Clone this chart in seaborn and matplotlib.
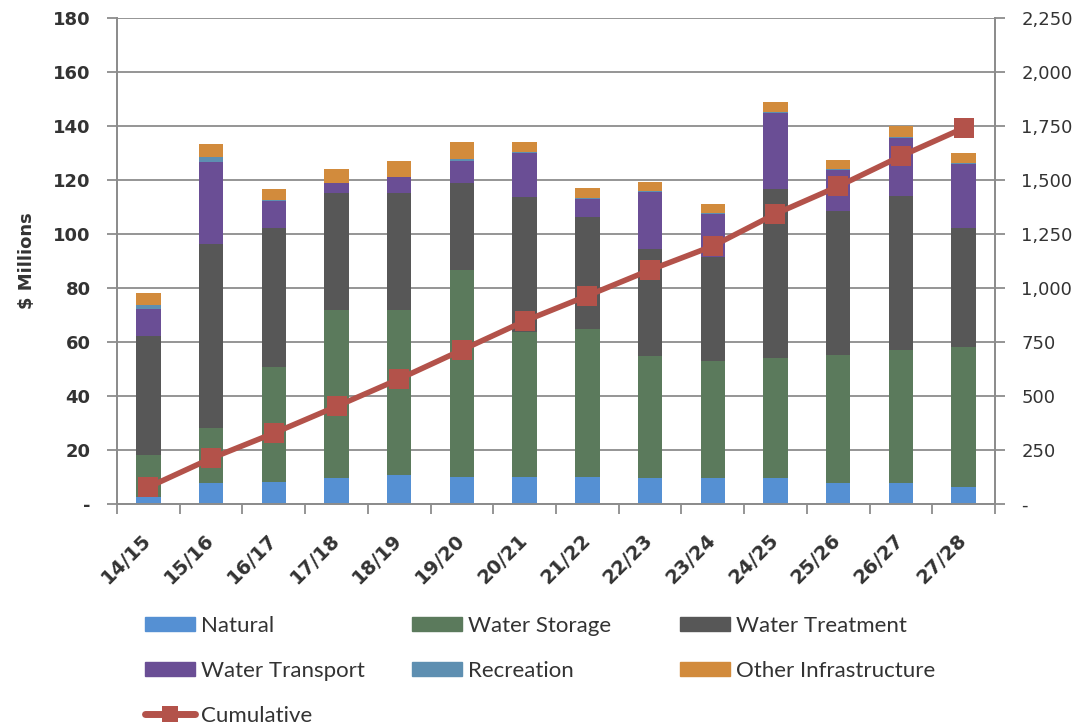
import numpy as np
import pandas as pd
import matplotlib
matplotlib.use("Agg")
import matplotlib.pyplot as plt
from matplotlib.patches import Patch
from matplotlib.lines import Line2D
from matplotlib.ticker import FixedLocator, FuncFormatter
import seaborn as sns

years = ["14/15", "15/16", "16/17", "17/18", "18/19", "19/20", "20/21",
         "21/22", "22/23", "23/24", "24/25", "25/26", "26/27", "27/28"]

natural        = [2.5, 7.9, 8.3, 9.5, 10.7, 10.1, 10.1, 10.1, 9.5, 9.7, 9.5, 7.7, 7.7, 6.4]
water_storage  = [15.6, 20.1, 42.6, 62.4, 61.2, 76.6, 53.7, 54.6, 45.4, 43.4, 44.5, 47.5, 49.3, 51.9]
water_treat    = [44.1, 68.3, 51.2, 43.2, 43.4, 32.3, 49.8, 41.7, 39.4, 38.3, 62.6, 53.4, 57.1, 44.0]
water_trans    = [9.9, 30.5, 10.1, 3.9, 5.9, 8.2, 16.3, 6.4, 21.4, 15.9, 28.3, 15.1, 21.5, 23.7]
recreation     = [1.6, 1.6, 0.4, 0.0, 0.0, 0.4, 0.4, 0.4, 0.4, 0.4, 0.4, 0.4, 0.4, 0.4]
other_infra    = [4.3, 4.9, 4.0, 5.0, 5.8, 6.6, 3.7, 3.7, 3.3, 3.3, 3.5, 3.3, 4.0, 3.5]

series_names = ["Natural", "Water Storage", "Water Treatment",
                "Water Transport", "Recreation", "Other Infrastructure"]
series_values = [natural, water_storage, water_treat, water_trans, recreation, other_infra]
series_colors = ["#5590D3", "#5B7A5C", "#575757", "#6A4E95", "#5E8FB1", "#D28B3C"]
line_color = "#B3524A"

sns.set_theme(style="white")
plt.rcParams["font.family"] = ["DejaVu Sans"]

fig = plt.figure(figsize=(10.91, 7.24), dpi=100)
ax = fig.add_axes([117 / 1091, 1 - 504 / 724, (995 - 117) / 1091, (504 - 18) / 724])

grid_col = "#8C8C8C"
ax.set_axisbelow(True)
ax.yaxis.grid(True, color=grid_col, linewidth=1.3)

bottom = np.zeros(len(years))
for name, vals, col in zip(series_names, series_values, series_colors):
    df = pd.DataFrame({"year": years, "value": vals})
    sns.barplot(data=df, x="year", y="value", color=col, bottom=bottom,
                width=0.39, saturation=1, ax=ax, linewidth=0, errorbar=None)
    bottom = bottom + np.array(vals)

ax.set_xlim(-0.5, len(years) - 0.5)
ax.set_ylim(0, 180)
ax.yaxis.set_major_locator(FixedLocator(np.arange(0, 181, 20)))
ax.yaxis.set_major_formatter(FuncFormatter(lambda v, p: "-" if v == 0 else f"{v:.0f}"))
ax.set_xlabel("")
ax.set_ylabel("$ Millions", fontsize=13, fontweight="bold", color="#333333", labelpad=12)

# cumulative line on the secondary axis
ax2 = ax.twinx()
cumulative = np.cumsum(bottom)
cdf = pd.DataFrame({"pos": np.arange(len(years)), "cum": cumulative})
sns.lineplot(data=cdf, x="pos", y="cum", ax=ax2, color=line_color, linewidth=4,
             marker="s", markersize=15, markeredgewidth=0)
ax2.set_ylim(0, 2250)
ax2.yaxis.set_major_locator(FixedLocator(np.arange(0, 2251, 250)))
ax2.yaxis.set_major_formatter(FuncFormatter(lambda v, p: "-" if v == 0 else f"{v:,.0f}"))
ax2.set_ylabel("")
ax2.set_xlabel("")
ax2.set_xlim(-0.5, len(years) - 0.5)

for a in (ax, ax2):
    a.spines["top"].set_visible(False)
    for side in ("left", "right", "bottom"):
        a.spines[side].set_color(grid_col)
        a.spines[side].set_linewidth(1.3)

ax.tick_params(axis="y", which="major", left=True, length=7, width=1.3, color=grid_col,
               labelsize=13, labelcolor="#333333", pad=12)
ax2.tick_params(axis="y", which="major", right=True, length=7, width=1.3, color=grid_col,
                labelsize=13, labelcolor="#333333", pad=12)
for lbl in ax.get_yticklabels():
    lbl.set_fontweight("bold")

# category boundary ticks, labels centred under bars
ax.xaxis.set_minor_locator(FixedLocator(np.arange(-0.5, len(years), 1.0)))
ax.tick_params(axis="x", which="minor", bottom=True, length=7, width=1.3, color=grid_col)
ax.tick_params(axis="x", which="major", bottom=False, length=0, labelsize=14,
               labelcolor="#333333", pad=24)
ax.set_xticks(np.arange(len(years)))
ax.set_xticklabels(years, rotation=45, ha="right", va="center",
                   rotation_mode="anchor", fontweight="bold")

# legend: three columns placed individually
handles = [Patch(color=c) for c in series_colors]
cum_handle = Line2D([0], [0], color=line_color, linewidth=5, marker="s", markersize=11,
                    markeredgewidth=0)
columns = [
    ([handles[0], handles[3], cum_handle], [series_names[0], series_names[3], "Cumulative"], 145),
    ([handles[1], handles[4]], [series_names[1], series_names[4]], 412),
    ([handles[2], handles[5]], [series_names[2], series_names[5]], 680),
]
for hs, ls, xpix in columns:
    leg = fig.legend(hs, ls, loc="upper left", bbox_to_anchor=(xpix / 1091, 1 - 616 / 724),
                     frameon=False, prop={"family": "Lato", "size": 16},
                     handlelength=2.25, handleheight=0.6, handletextpad=0.27,
                     labelspacing=1.12, borderpad=0, borderaxespad=0,
                     labelcolor="#333333")

fig.savefig("out.png", dpi=100)
